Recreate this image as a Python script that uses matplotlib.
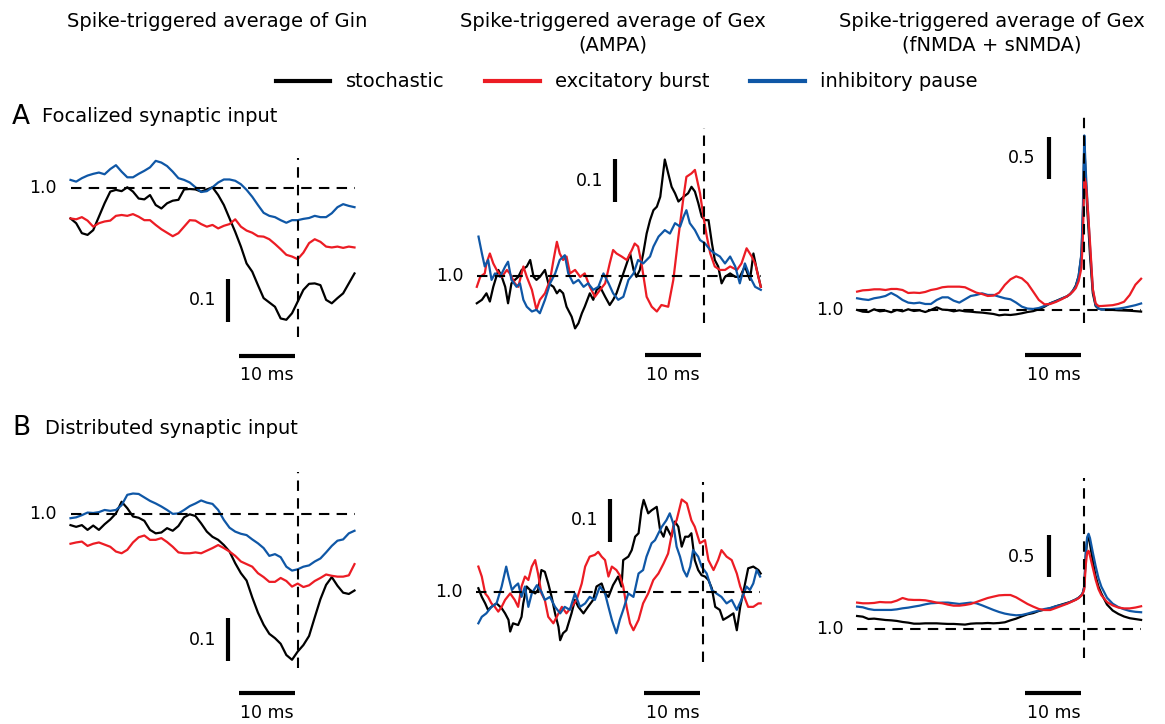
import numpy as np
import matplotlib.pyplot as plt

# time axis (ms relative to spike)
t_ms = np.arange(-40, 11, 1)
t_col3 = list(range(-40, -2)) + [-2.5, -2, -1.5, -1, -0.5, -0.25, 0, 0.25, 0.5, 0.75,
                                  1, 1.5, 2, 2.5, 3] + list(range(4, 11))

# A: focalized synaptic input
a1_black = [0.929, 0.918, 0.895, 0.891, 0.902, 0.933, 0.964, 0.991, 0.995, 0.992,
            1.001, 0.991, 0.975, 0.973, 0.983, 0.960, 0.952, 0.964, 0.970, 0.972,
            0.996, 0.997, 0.996, 0.991, 0.996, 1.001, 0.983, 0.960, 0.929, 0.898,
            0.864, 0.825, 0.806, 0.775, 0.745, 0.735, 0.725, 0.698, 0.695, 0.710,
            0.737, 0.764, 0.778, 0.779, 0.775, 0.741, 0.733, 0.745, 0.756, 0.779, 0.802]
a1_red = [0.929, 0.927, 0.932, 0.924, 0.910, 0.918, 0.922, 0.924, 0.935, 0.937,
          0.935, 0.939, 0.933, 0.925, 0.925, 0.914, 0.904, 0.896, 0.888, 0.895,
          0.910, 0.925, 0.924, 0.916, 0.910, 0.914, 0.906, 0.912, 0.916, 0.927,
          0.910, 0.901, 0.896, 0.888, 0.887, 0.881, 0.870, 0.858, 0.845, 0.841,
          0.835, 0.850, 0.872, 0.881, 0.875, 0.864, 0.862, 0.864, 0.861, 0.864, 0.862]
a1_blue = [1.018, 1.014, 1.022, 1.028, 1.032, 1.035, 1.031, 1.043, 1.052, 1.037,
           1.024, 1.024, 1.032, 1.039, 1.047, 1.062, 1.058, 1.050, 1.037, 1.022,
           1.018, 1.012, 1.001, 0.990, 0.992, 1.001, 1.012, 1.019, 1.019, 1.016,
           1.008, 0.995, 0.979, 0.960, 0.942, 0.935, 0.932, 0.925, 0.919, 0.925,
           0.925, 0.928, 0.930, 0.935, 0.932, 0.932, 0.941, 0.955, 0.962, 0.958, 0.955]

a2_black_t = [-40.0, -39.1, -38.3, -37.7, -37.1, -36.2, -35.6, -35.0, -34.5, -33.9,
              -33.3, -32.7, -32.1, -31.2, -30.6, -30.0, -29.5, -28.9, -28.0, -27.4,
              -26.5, -25.9, -25.4, -24.8, -24.2, -23.3, -22.7, -22.1, -21.5, -21.0,
              -20.1, -19.5, -18.9, -18.3, -17.4, -16.6, -16.0, -15.4, -14.8, -14.2,
              -13.6, -13.0, -12.4, -11.9, -11.3, -10.7, -10.1, -9.5, -8.9, -8.3,
              -7.7, -6.9, -6.3, -5.7, -5.1, -4.5, -3.6, -2.8, -2.2, -1.6,
              -1.0, -0.4, 0.2, 0.8, 1.4, 1.9, 2.5, 3.1, 3.7, 4.6,
              5.5, 6.3, 7.2, 8.1, 8.7, 9.3, 10.0]
a2_black = [0.937, 0.945, 0.960, 0.941, 0.975, 1.014, 0.998, 0.975, 0.937, 0.983,
            0.991, 0.998, 1.014, 1.022, 1.037, 0.998, 0.991, 0.998, 1.014, 0.983,
            0.975, 0.960, 0.968, 0.960, 0.929, 0.906, 0.879, 0.891, 0.914, 0.929,
            0.960, 0.945, 0.968, 0.975, 0.952, 0.933, 0.945, 0.960, 0.983, 1.006,
            1.029, 1.052, 1.014, 0.998, 1.014, 1.052, 1.098, 1.129, 1.152, 1.160,
            1.183, 1.269, 1.237, 1.206, 1.191, 1.172, 1.183, 1.191, 1.206, 1.195,
            1.168, 1.137, 1.129, 1.129, 1.075, 1.037, 1.022, 0.983, 0.998, 1.006,
            0.998, 0.998, 1.022, 0.991, 1.052, 1.014, 0.975]
a2_red_t = [-40.0, -39.4, -38.6, -38.3, -37.7, -37.1, -36.5, -35.6, -34.7, -34.2,
            -33.3, -32.7, -31.8, -31.2, -30.3, -29.5, -28.9, -28.0, -27.1, -26.5,
            -25.9, -25.4, -24.8, -24.2, -23.6, -22.7, -21.8, -21.0, -20.1, -19.2,
            -18.3, -17.4, -16.6, -16.0, -15.4, -14.5, -13.6, -12.7, -12.2, -11.6,
            -11.0, -10.1, -9.2, -8.3, -7.5, -6.3, -5.4, -4.5, -3.6, -3.1,
            -2.2, -1.6, -0.7, -0.1, 0.5, 1.1, 1.9, 2.8, 3.7, 4.6,
            5.8, 6.6, 7.5, 8.4, 9.0, 10.0]
a2_red = [0.975, 0.998, 1.006, 1.029, 1.052, 1.029, 1.014, 0.998, 1.014, 1.006,
          0.983, 0.975, 1.022, 0.998, 0.968, 0.922, 0.945, 0.960, 0.991, 1.037,
          1.079, 1.052, 1.037, 1.045, 1.006, 1.014, 0.998, 1.006, 0.975, 0.952,
          0.968, 0.983, 1.029, 1.060, 1.052, 1.045, 1.037, 1.060, 1.075, 1.068,
          1.029, 0.952, 0.929, 0.918, 0.933, 0.929, 0.991, 1.091, 1.183, 1.229,
          1.237, 1.245, 1.191, 1.137, 1.091, 1.052, 1.022, 1.014, 1.014, 1.022,
          1.014, 1.029, 1.064, 1.045, 1.029, 0.975]
a2_blue_t = [-39.7, -39.1, -38.6, -38.0, -37.4, -36.8, -35.9, -35.0, -34.5, -33.9,
             -33.0, -32.4, -31.8, -31.2, -30.3, -29.5, -28.9, -28.0, -27.1, -26.2,
             -25.4, -24.5, -23.9, -23.0, -22.1, -21.2, -20.4, -19.5, -18.6, -17.7,
             -16.8, -16.0, -15.1, -14.2, -13.3, -12.4, -11.6, -10.7, -9.5, -8.9,
             -8.0, -6.9, -6.0, -5.1, -4.2, -3.6, -3.1, -2.5, -1.6, -0.7,
             0.2, 1.1, 1.9, 2.8, 3.7, 4.6, 5.5, 6.3, 7.2, 8.1,
             9.0, 10.0]
a2_blue = [1.091, 1.052, 1.022, 1.037, 0.991, 1.006, 0.998, 1.022, 1.033, 0.991,
           0.975, 0.983, 0.945, 0.929, 0.918, 0.922, 0.914, 0.945, 0.983, 1.006,
           1.037, 1.048, 1.006, 0.983, 0.991, 0.975, 0.983, 0.968, 0.975, 1.006,
           0.983, 0.960, 0.945, 0.952, 0.991, 1.006, 1.037, 1.029, 1.045, 1.068,
           1.091, 1.106, 1.098, 1.122, 1.114, 1.137, 1.152, 1.122, 1.106, 1.083,
           1.075, 1.060, 1.052, 1.045, 1.029, 1.045, 1.022, 0.983, 1.029, 0.998,
           0.975, 0.968]

a3_black = [1.004, 0.984, 0.980, 1.012, 0.988, 0.996, 0.977, 1.004, 0.988, 1.012,
            0.992, 1.000, 0.980, 1.004, 1.035, 1.008, 1.004, 0.988, 1.000, 0.988,
            0.984, 0.977, 0.973, 0.965, 0.957, 0.941, 0.949, 0.945, 0.953, 0.965,
            0.980, 0.990, 1.012, 1.043, 1.082, 1.109, 1.137, 1.165,
            1.19, 1.23, 1.29, 1.40, 1.65, 2.10, 2.95, 2.55, 2.20, 1.95,
            1.65, 1.20, 1.05, 1.02, 1.01,
            1.010, 1.005, 1.000, 0.998, 0.995, 0.990, 0.985]
a3_red = [1.219, 1.234, 1.238, 1.246, 1.246, 1.238, 1.250, 1.250, 1.238, 1.203,
          1.207, 1.203, 1.215, 1.238, 1.250, 1.270, 1.277, 1.277, 1.277, 1.270,
          1.238, 1.207, 1.191, 1.168, 1.172, 1.207, 1.297, 1.363, 1.398, 1.375,
          1.316, 1.219, 1.121, 1.070, 1.074, 1.098, 1.129, 1.165,
          1.19, 1.22, 1.26, 1.34, 1.50, 1.85, 2.55, 2.50, 2.30, 2.05,
          1.80, 1.25, 1.08, 1.05, 1.05,
          1.055, 1.060, 1.075, 1.100, 1.180, 1.300, 1.370]
a3_blue = [1.141, 1.129, 1.121, 1.141, 1.152, 1.168, 1.203, 1.168, 1.121, 1.090,
           1.082, 1.090, 1.074, 1.074, 1.121, 1.152, 1.152, 1.113, 1.090, 1.129,
           1.168, 1.180, 1.199, 1.180, 1.180, 1.160, 1.141, 1.129, 1.090, 1.043,
           1.020, 1.016, 1.027, 1.051, 1.082, 1.105, 1.137, 1.165,
           1.19, 1.23, 1.28, 1.40, 1.67, 2.20, 3.05, 2.65, 2.33, 2.05,
           1.75, 1.24, 1.06, 1.02, 1.01,
           1.010, 1.015, 1.020, 1.030, 1.045, 1.060, 1.080]

# B: distributed synaptic input
b1_black = [0.975, 0.971, 0.975, 0.964, 0.974, 0.964, 0.977, 0.988, 1.002, 1.029,
            1.014, 0.995, 0.992, 0.985, 0.964, 0.956, 0.958, 0.968, 0.962, 0.973,
            0.993, 1.000, 0.996, 0.979, 0.960, 0.948, 0.941, 0.929, 0.914, 0.887,
            0.864, 0.847, 0.808, 0.773, 0.745, 0.724, 0.714, 0.701, 0.675, 0.664,
            0.683, 0.698, 0.719, 0.762, 0.804, 0.837, 0.855, 0.835, 0.819, 0.816, 0.824]
b1_red = [0.932, 0.935, 0.937, 0.927, 0.932, 0.935, 0.930, 0.925, 0.914, 0.910,
          0.918, 0.935, 0.947, 0.951, 0.941, 0.941, 0.945, 0.936, 0.925, 0.912,
          0.910, 0.910, 0.912, 0.910, 0.916, 0.922, 0.929, 0.922, 0.914, 0.904,
          0.891, 0.885, 0.879, 0.864, 0.855, 0.844, 0.844, 0.853, 0.846, 0.833,
          0.840, 0.832, 0.836, 0.846, 0.853, 0.861, 0.858, 0.856, 0.856, 0.859, 0.885]
b1_blue = [0.991, 0.993, 0.998, 1.004, 1.003, 1.005, 1.010, 1.008, 1.010, 1.021,
           1.045, 1.048, 1.047, 1.039, 1.031, 1.025, 1.018, 1.010, 1.001, 1.002,
           1.010, 1.019, 1.025, 1.032, 1.027, 1.024, 1.010, 0.987, 0.969, 0.960,
           0.955, 0.952, 0.942, 0.933, 0.922, 0.904, 0.908, 0.901, 0.879, 0.870,
           0.873, 0.879, 0.882, 0.891, 0.898, 0.912, 0.927, 0.939, 0.942, 0.956, 0.962]

b2_black_t = [-39.6, -39.0, -38.4, -37.9, -37.3, -36.4, -35.5, -34.9, -34.3, -34.0,
              -33.5, -32.6, -32.0, -31.7, -31.1, -30.5, -29.6, -29.1, -28.5, -27.9,
              -27.3, -26.7, -26.1, -25.5, -25.2, -24.7, -24.1, -23.2, -22.6, -22.0,
              -21.1, -20.3, -19.4, -18.8, -17.9, -17.3, -16.7, -15.9, -15.0, -14.4,
              -14.1, -13.2, -12.6, -12.0, -11.4, -10.9, -10.5, -9.7, -9.1, -8.2,
              -7.6, -7.0, -6.5, -5.6, -5.0, -4.4, -3.8, -3.2, -2.6, -2.1,
              -1.5, -0.9, -0.3, 0.3, 0.9, 1.5, 2.1, 2.9, 3.5, 4.4,
              5.3, 5.9, 6.5, 7.0, 7.9, 8.8, 9.7, 10.1]
b2_black = [1.008, 0.988, 0.973, 0.958, 0.965, 0.973, 0.962, 0.950, 0.935, 0.908,
            0.927, 0.923, 0.942, 0.973, 1.012, 1.004, 0.996, 1.004, 1.050, 1.046,
            1.019, 0.988, 0.950, 0.919, 0.888, 0.904, 0.911, 0.950, 0.981, 0.965,
            0.950, 0.965, 0.981, 1.012, 1.019, 0.996, 0.988, 1.015, 1.035, 1.012,
            1.073, 1.081, 1.096, 1.127, 1.135, 1.188, 1.212, 1.181, 1.188, 1.196,
            1.142, 1.127, 1.150, 1.127, 1.162, 1.150, 1.104, 1.127, 1.127, 1.135,
            1.073, 1.050, 1.038, 1.035, 1.027, 1.008, 0.965, 0.958, 0.935, 0.942,
            0.950, 0.911, 0.965, 0.996, 1.054, 1.058, 1.050, 1.042]
b2_red_t = [-39.6, -39.0, -38.4, -37.9, -37.3, -36.7, -36.1, -35.5, -34.9, -34.0,
            -33.2, -32.6, -32.0, -31.4, -30.8, -30.2, -29.6, -29.1, -28.5, -27.9,
            -27.3, -26.4, -25.8, -24.9, -24.1, -23.2, -22.3, -21.4, -20.8, -20.0,
            -19.1, -18.5, -17.9, -17.3, -16.7, -16.1, -15.3, -14.7, -14.1, -13.5,
            -12.9, -12.3, -11.4, -10.6, -9.7, -8.8, -7.9, -7.0, -6.2, -5.3,
            -4.7, -3.8, -2.9, -2.1, -1.5, -0.6, 0.3, 0.9, 1.8, 2.6,
            3.2, 4.1, 5.0, 5.9, 6.5, 7.0, 7.9, 8.8, 9.7, 10.1]
b2_red = [1.058, 1.035, 0.996, 0.988, 0.973, 0.965, 0.954, 0.965, 0.981, 0.996,
          0.981, 0.965, 1.012, 1.035, 1.027, 1.058, 1.073, 1.042, 0.996, 0.981,
          0.942, 0.927, 0.942, 0.965, 0.950, 0.965, 0.981, 1.019, 1.058, 1.081,
          1.085, 1.092, 1.081, 1.073, 1.035, 1.058, 1.050, 1.038, 1.012, 0.965,
          0.927, 0.911, 0.935, 0.973, 0.996, 1.027, 1.042, 1.065, 1.088, 1.150,
          1.165, 1.213, 1.204, 1.165, 1.150, 1.112, 1.119, 1.073, 1.050, 1.073,
          1.096, 1.081, 1.073, 1.042, 1.012, 0.996, 0.965, 0.965, 0.973, 0.973]
b2_blue_t = [-39.6, -39.0, -38.2, -37.3, -36.4, -35.5, -34.7, -34.3, -33.7, -33.2,
             -32.6, -32.0, -31.4, -30.8, -30.2, -29.3, -28.5, -27.9, -27.0, -26.1,
             -25.2, -24.4, -23.5, -22.6, -21.7, -20.8, -20.0, -19.1, -18.2, -17.3,
             -16.7, -16.1, -15.3, -14.7, -14.1, -13.2, -12.3, -11.4, -10.6, -10.0,
             -9.1, -8.5, -7.9, -7.3, -6.5, -5.9, -5.3, -4.7, -4.1, -3.5,
             -2.9, -2.3, -1.8, -0.9, -0.3, 0.6, 1.5, 2.3, 3.2, 4.1,
             5.0, 5.9, 6.7, 7.6, 8.2, 8.8, 9.4, 10.0]
b2_blue = [0.927, 0.942, 0.950, 0.965, 0.973, 1.012, 1.058, 1.035, 1.004, 1.012,
           1.019, 0.988, 1.012, 0.965, 0.996, 1.015, 1.000, 0.981, 0.988, 0.965,
           0.950, 0.965, 0.958, 0.996, 0.965, 0.973, 0.988, 0.981, 1.012, 0.996,
           0.965, 0.935, 0.904, 0.935, 0.958, 0.996, 0.988, 1.042, 1.050, 1.081,
           1.112, 1.119, 1.135, 1.150, 1.165, 1.181, 1.158, 1.104, 1.081, 1.050,
           1.035, 1.058, 1.096, 1.081, 1.058, 1.042, 1.004, 0.996, 0.988, 0.973,
           0.981, 0.958, 0.981, 1.012, 1.004, 1.019, 1.050, 1.035]

b3_black = [1.156, 1.148, 1.121, 1.125, 1.117, 1.109, 1.105, 1.098, 1.086, 1.078,
            1.066, 1.066, 1.070, 1.070, 1.070, 1.066, 1.063, 1.063, 1.059, 1.055,
            1.066, 1.070, 1.070, 1.074, 1.070, 1.074, 1.082, 1.105, 1.125, 1.152,
            1.176, 1.190, 1.215, 1.230, 1.246, 1.270, 1.290, 1.310,
            1.32, 1.335, 1.35, 1.37, 1.40, 1.43, 1.50, 1.85, 2.05, 2.08,
            2.00, 1.80, 1.62, 1.50, 1.42,
            1.29, 1.22, 1.18, 1.15, 1.13, 1.12, 1.11]
b3_red = [1.313, 1.305, 1.305, 1.309, 1.320, 1.316, 1.316, 1.336, 1.367, 1.348,
          1.344, 1.344, 1.340, 1.328, 1.313, 1.305, 1.289, 1.277, 1.277, 1.285,
          1.297, 1.320, 1.344, 1.367, 1.383, 1.398, 1.402, 1.402, 1.375, 1.336,
          1.297, 1.266, 1.238, 1.226, 1.226, 1.250, 1.275, 1.300,
          1.315, 1.33, 1.345, 1.365, 1.395, 1.42, 1.47, 1.75, 1.90, 1.92,
          1.86, 1.72, 1.58, 1.47, 1.40,
          1.32, 1.28, 1.255, 1.245, 1.245, 1.255, 1.27]
b3_blue = [1.266, 1.258, 1.238, 1.227, 1.227, 1.227, 1.227, 1.234, 1.246, 1.254,
           1.266, 1.277, 1.293, 1.305, 1.309, 1.313, 1.313, 1.305, 1.297, 1.305,
           1.313, 1.305, 1.281, 1.254, 1.227, 1.203, 1.184, 1.172, 1.164, 1.168,
           1.184, 1.203, 1.219, 1.238, 1.250, 1.270, 1.285, 1.305,
           1.32, 1.335, 1.35, 1.37, 1.40, 1.43, 1.50, 1.90, 2.08, 2.12,
           2.07, 1.90, 1.74, 1.60, 1.50,
           1.37, 1.30, 1.26, 1.235, 1.215, 1.205, 1.20]

labels = ['stochastic', 'excitatory burst', 'inhibitory pause']
colors = ['#000000', '#ec1c24', '#0f57a6']
col_titles = ['Spike-triggered average of Gin',
              'Spike-triggered average of Gex\n(AMPA)',
              'Spike-triggered average of Gex\n(fNMDA + sNMDA)']

W, H = 1165, 724
PX_MS = 5.68
fig = plt.figure(figsize=(W / 100, H / 100), dpi=100)


def add_panel(x0, y1, ppu, top, bottom):
    # axes placed so that 1 ms and 1 unit map to fixed pixel sizes
    lpx = x0 - 46 * PX_MS
    rpx = x0 + 12 * PX_MS
    ax = fig.add_axes([lpx / W, 1 - bottom / H, (rpx - lpx) / W, (bottom - top) / H])
    ax.set_xlim(-46, 12)
    ax.set_ylim(1 - (bottom - y1) / ppu, 1 + (y1 - top) / ppu)
    ax.axis('off')
    return ax


panels = [
    dict(x0=297.7, y1=187.7, ppu=433, top=110, bottom=400,
         traces=[(t_ms, a1_black), (t_ms, a1_red), (t_ms, a1_blue)], order=[0, 1, 2],
         vdash=(0.655, 1.069), vbar=(-12.2, 0.69, 0.79), vlab=('0.1', -14.4, 0.74),
         hbar=0.612, hlab=0.567),
    dict(x0=704.0, y1=276.0, ppu=433, top=110, bottom=400,
         traces=[(a2_black_t, a2_black), (a2_red_t, a2_red), (a2_blue_t, a2_blue)],
         order=[0, 1, 2], vdash=(0.891, 1.342), vbar=(-15.7, 1.17, 1.27),
         vlab=('0.1', -17.8, 1.219), hbar=0.817, hlab=0.771),
    dict(x0=1084.3, y1=310.3, ppu=85.3, top=110, bottom=400,
         traces=[(t_col3, a3_black), (t_col3, a3_red), (t_col3, a3_blue)], order=[0, 2, 1],
         vdash=(0.851, 3.266), vbar=(-6.2, 2.536, 3.035), vlab=('0.5', -8.7, 2.789),
         hbar=0.476, hlab=0.241),
    dict(x0=297.7, y1=514.3, ppu=433, top=440, bottom=724,
         traces=[(t_ms, b1_black), (t_ms, b1_red), (t_ms, b1_blue)], order=[0, 1, 2],
         vdash=(0.644, 1.098), vbar=(-12.2, 0.661, 0.760), vlab=('0.1', -14.4, 0.710),
         hbar=0.587, hlab=0.541),
    dict(x0=703.3, y1=591.7, ppu=433, top=440, bottom=724,
         traces=[(b2_black_t, b2_black), (b2_red_t, b2_red), (b2_blue_t, b2_blue)],
         order=[0, 1, 2], vdash=(0.838, 1.254), vbar=(-16.4, 1.115, 1.213),
         vlab=('0.1', -18.5, 1.166), hbar=0.765, hlab=0.720),
    dict(x0=1084.3, y1=629.3, ppu=85.3, top=440, bottom=724,
         traces=[(t_col3, b3_black), (t_col3, b3_red), (t_col3, b3_blue)], order=[0, 2, 1],
         vdash=(0.660, 2.770), vbar=(-6.2, 1.610, 2.105), vlab=('0.5', -8.7, 1.851),
         hbar=0.250, hlab=0.022),
]

fs = 12.5
handles = {}
for p in panels:
    ax = add_panel(p['x0'], p['y1'], p['ppu'], p['top'], p['bottom'])
    for k in p['order']:
        tt, vv = p['traces'][k]
        ln, = ax.plot(tt, vv, color=colors[k], lw=1.6, zorder=2, label=labels[k])
        handles.setdefault(labels[k], ln)
    # reference lines at baseline and spike time
    ax.hlines(1.0, -40, 10, colors='black', lw=1.5, linestyles=(0, (5, 3.5)), zorder=3)
    ax.vlines(0, p['vdash'][0], p['vdash'][1], colors='black', lw=1.5,
              linestyles=(0, (5, 3.5)), zorder=3)
    ax.text(-42.4, 1.0, '1.0', ha='right', va='center', fontsize=fs)
    # scale bars
    ax.plot([p['vbar'][0]] * 2, p['vbar'][1:], color='black', lw=3, solid_capstyle='butt')
    ax.text(p['vlab'][1], p['vlab'][2], p['vlab'][0], ha='right', va='center', fontsize=fs)
    ax.plot([-10.4, -0.5], [p['hbar']] * 2, color='black', lw=3, solid_capstyle='butt')
    ax.text(-5.45, p['hlab'], '10 ms', ha='center', va='center', fontsize=fs)

# column titles
for x, title in zip([0.186, 0.526, 0.851], col_titles):
    fig.text(x, 0.983, title, ha='center', va='top', fontsize=14, linespacing=1.25)

# row labels
fig.text(12 / W, 1 - 117 / H, 'A', fontsize=19, va='center', ha='left')
fig.text(42 / W, 1 - 117 / H, 'Focalized synaptic input', fontsize=14, va='center', ha='left')
fig.text(12 / W, 1 - 428 / H, 'B', fontsize=19, va='center', ha='left')
fig.text(45 / W, 1 - 428 / H, 'Distributed synaptic input', fontsize=14, va='center', ha='left')

leg = fig.legend([handles[l] for l in labels], labels, loc='center',
                 bbox_to_anchor=(0.538, 0.887), ncol=3, frameon=False, fontsize=14,
                 handlelength=2.8, handletextpad=0.8, columnspacing=2.1)
for ln in leg.get_lines():
    ln.set_linewidth(3)

fig.savefig('out.png', dpi=100)
